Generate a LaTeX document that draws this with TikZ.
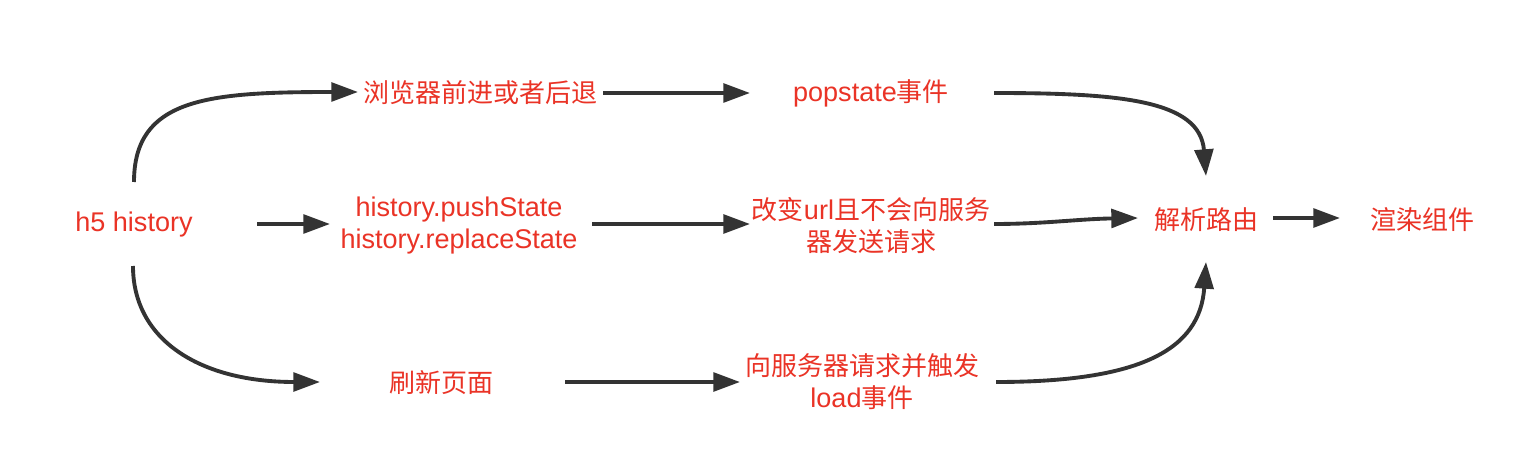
\documentclass[tikz,border=0pt]{standalone}
\usepackage{fontspec}
\setmainfont[Scale=1.04]{Liberation Sans}
\newfontfamily\cjk{Noto Sans CJK SC}
\usetikzlibrary{arrows.meta}
\definecolor{txtred}{RGB}{234,51,38}
\definecolor{linegray}{RGB}{51,51,51}
\tikzset{
  lbl/.style={text=txtred, inner sep=0pt, align=center, font=\fontsize{19.5pt}{24pt}\selectfont},
  arr/.style={draw=linegray, line width=2.9pt, -{Triangle[length=20pt,width=14pt]}},
}
\begin{document}
\begin{tikzpicture}[x=0.75pt,y=-0.75pt]
\fill[white] (0,0) rectangle (1532,474);
\path[use as bounding box] (0,0) rectangle (1532,474);

\node[lbl] (h5) at (134,225) {h5 history};
\node[lbl] (back) at (480,93) {\cjk 浏览器前进或者后退};
\node[lbl] (pop) at (871,93) {popstate{\cjk 事件}};
\node[lbl] (push) at (459,226) {history.pushState\\history.replaceState};
\node[lbl] (chg) at (871,226) {{\cjk 改变}url{\cjk 且不会向服务}\\{\cjk 器发送请求}};
\node[lbl] (parse) at (1206,220) {\cjk 解析路由};
\node[lbl] (render) at (1422,220) {\cjk 渲染组件};
\node[lbl] (refresh) at (441,383) {\cjk 刷新页面};
\node[lbl] (req) at (862,382) {{\cjk 向服务器请求并触发}\\load{\cjk 事件}};

% top row
\draw[arr] ([shift={(0,-43)}]h5.center) .. controls +(0,-84) and +(-150,0) .. ([shift={(-122,-1)}]back.center);
\draw[arr] ([shift={(123,0)}]back.center) -- ([shift={(-121,0)}]pop.center);
\draw[arr] ([shift={(123,0)}]pop.center) .. controls +(126,0) and +(-6,-76) .. ([shift={(0,-44)}]parse.center);

% middle row
\draw[arr] ([shift={(123,-1)}]h5.center) -- ([shift={(-129,-2)}]push.center);
\draw[arr] ([shift={(133,-2)}]push.center) -- ([shift={(-121,-2)}]chg.center);
\draw[arr] ([shift={(123,-2)}]chg.center) .. controls +(50,0) and +(-60,1) .. ([shift={(-68,-2)}]parse.center);
\draw[arr] ([shift={(67,-2)}]parse.center) -- ([shift={(-82,-2)}]render.center);

% bottom row
\draw[arr] ([shift={(-1,41)}]h5.center) .. controls +(0,74) and +(-120,0) .. ([shift={(-121,-1)}]refresh.center);
\draw[arr] ([shift={(124,-1)}]refresh.center) -- ([shift={(-122,0)}]req.center);
\draw[arr] ([shift={(134,0)}]req.center) .. controls +(144,0) and +(-6,88) .. ([shift={(0,42)}]parse.center);
\end{tikzpicture}
\end{document}
